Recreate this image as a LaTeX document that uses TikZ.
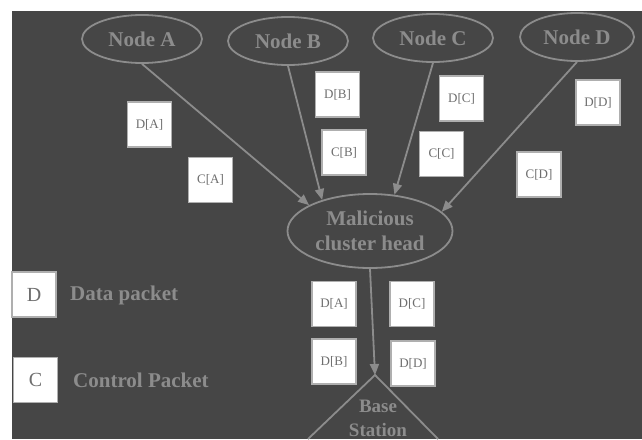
\documentclass[tikz,border=0pt]{standalone}
\usepackage{fontspec}
\setmainfont{Liberation Serif}
\usetikzlibrary{arrows.meta,shapes.geometric}
\definecolor{panel}{HTML}{464646}
\definecolor{ink}{HTML}{8C8C8C}
\definecolor{boxtext}{HTML}{6E6E6E}

\begin{document}
\begin{tikzpicture}[x=1pt, y=-1pt,
  member/.style={ellipse, draw=ink, line width=1.8pt, minimum width=120pt, minimum height=48pt,
    inner sep=0pt, align=center, text=ink, font=\fontsize{21}{25}\selectfont\bfseries},
  packet/.style={rectangle, draw=ink!70!white, line width=1.5pt, fill=white, minimum width=44pt,
    minimum height=45pt, inner sep=0pt, text=boxtext, font=\fontsize{13}{15}\selectfont},
  flow/.style={draw=ink, line width=1.8pt, -{Triangle[length=11pt, width=9pt]}},
  legend/.style={anchor=west, inner sep=0pt, text=ink, font=\fontsize{21}{25}\selectfont\bfseries}]
\useasboundingbox (0,0) rectangle (642,439);
\fill[white] (0,0) rectangle (642,439);
\fill[panel] (12,11) rectangle (642,439);
% sensor nodes
\node[member] (nA) at (142,39) {Node A};
\node[member] (nB) at (288,41) {Node B};
\node[member] (nC) at (433,38) {Node C};
\node[member, minimum width=114pt] (nD) at (577,37) {Node D};
\node[member, minimum width=165pt, minimum height=74pt] (mal) at (370,231) {Malicious\\cluster head};
% base station
\coordinate (bs) at (375,375);
\draw[ink, line width=1.8pt] (308,439) -- (bs) -- (438,439);
\node[text=ink, align=center, inner sep=0pt, font=\fontsize{19}{24}\selectfont\bfseries] (bslabel) at (378,418) {Base\\Station};
% links
\draw[flow] (nA.south) -- (mal.157);
\draw[flow] (nB.south) -- (mal.147);
\draw[flow] (nC.south) -- (mal.56);
\draw[flow] (nD.south) -- (mal.15);
\draw[flow] (mal.south) -- (bs);
% packets sent up
\node[packet] (dA) at (149.5,124.5) {D[A]};
\node[packet] (cA) at (210.5,180) {C[A]};
\node[packet] (dB) at (337.5,94.5) {D[B]};
\node[packet] (cB) at (344,152.5) {C[B]};
\node[packet] (dC) at (461.5,98.5) {D[C]};
\node[packet] (cC) at (441.5,154) {C[C]};
\node[packet] (dD) at (598,102.5) {D[D]};
\node[packet] (cD) at (539,174.5) {C[D]};
% packets forwarded
\node[packet] (fA) at (334,304) {D[A]};
\node[packet] (fC) at (412,304) {D[C]};
\node[packet] (fB) at (334,361.5) {D[B]};
\node[packet] (fD) at (413,363.5) {D[D]};
% legend
\node[packet, font=\fontsize{20}{24}\selectfont] (keyD) at (34,294.5) {D};
\node[legend] (keyDtext) at (70,295) {Data packet};
\node[packet, font=\fontsize{20}{24}\selectfont] (keyC) at (35.5,380) {C};
\node[legend] (keyCtext) at (73,380) {Control Packet};
\end{tikzpicture}
\end{document}
